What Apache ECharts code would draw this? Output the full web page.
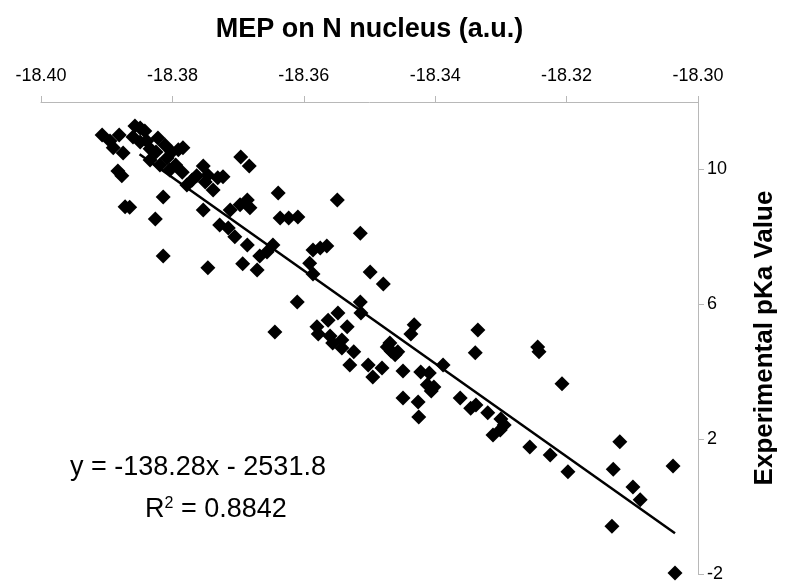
<!DOCTYPE html>
<html>
<head>
<meta charset="utf-8">
<script src="https://cdn.jsdelivr.net/npm/echarts@6/dist/echarts.min.js"></script>
<style>
  html, body { margin: 0; padding: 0; background: #ffffff; }
  #chart { width: 785px; height: 582px; }
</style>
</head>
<body>
<div id="chart"></div>
<script>
const mep = [
  -18.3907, -18.3895, -18.3881, -18.3890, -18.3875, -18.3883, -18.3877, -18.3872, -18.3865, -18.3857,
  -18.3849, -18.3842, -18.3860, -18.3849, -18.3839, -18.3834, -18.3825, -18.3834, -18.3826, -18.3814,
  -18.3814, -18.3822, -18.3811, -18.3819, -18.3808, -18.3801, -18.3791, -18.3784, -18.3804, -18.3795,
  -18.3785, -18.3778, -18.3770, -18.3763, -18.3753, -18.3746, -18.3750, -18.3738, -18.3731, -18.3723,
  -18.3753, -18.3746, -18.3728, -18.3715, -18.3705, -18.3712, -18.3697, -18.3686, -18.3682, -18.3696,
  -18.3683, -18.3686, -18.3693, -18.3671, -18.3667, -18.3656, -18.3647, -18.3639, -18.3636,
  -18.3623, -18.3609, -18.3549, -18.3586, -18.3575, -18.3565, -18.3591, -18.3586, -18.3514, -18.3499,
  -18.3479, -18.3610, -18.3644, -18.3514, -18.3513, -18.3548, -18.3563, -18.3534, -18.3580, -18.3578,
  -18.3560, -18.3556, -18.3542, -18.3542, -18.3524, -18.3530, -18.3502, -18.3495, -18.3481, -18.3473,
  -18.3467, -18.3461, -18.3457, -18.3449, -18.3432, -18.3437, -18.3469, -18.3422, -18.3409, -18.3412,
  -18.3406, -18.3402, -18.3449, -18.3426, -18.3425, -18.3388, -18.3335, -18.3339, -18.3362, -18.3346,
  -18.3338, -18.3320, -18.3300, -18.3295, -18.3312, -18.3301, -18.3256, -18.3244, -18.3242, -18.3207,
  -18.3225, -18.3198, -18.3129, -18.3119, -18.3038, -18.3099, -18.3088, -18.3131, -18.3035
];
const pka = [
  11.02, 10.84, 11.02, 10.64, 10.49, 9.95, 9.81, 8.89, 8.88, 11.29,
  11.23, 11.14, 10.96, 10.81, 10.84, 10.61, 10.52, 10.28, 8.53, 7.43,
  9.18, 10.93, 10.72, 10.13, 10.34, 10.52, 10.58, 10.64, 9.98, 10.13,
  9.92, 9.54, 9.69, 9.81, 10.10, 9.83, 9.63, 9.39, 9.75, 9.78,
  8.80, 7.08, 8.35, 8.26, 8.00, 8.80, 8.95, 9.09, 8.86, 10.37,
  10.10, 7.76, 7.20, 7.02, 7.43, 7.55, 7.76, 9.30, 8.56,
  8.56, 8.59, 9.09, 7.61, 7.67, 7.73, 7.22, 6.90, 8.11, 6.96,
  6.60, 6.07, 5.18, 6.07, 5.74, 5.74, 5.53, 5.33, 5.33, 5.12,
  5.06, 4.85, 4.94, 4.70, 4.59, 4.20, 4.20, 3.84, 4.11, 4.73,
  4.61, 4.50, 4.59, 4.02, 5.39, 5.12, 4.85, 3.99, 3.96, 3.61,
  3.43, 3.55, 3.22, 3.10, 2.66, 4.20, 5.24, 4.56, 3.22, 2.92,
  3.01, 2.78, 2.60, 2.42, 2.12, 2.27, 1.77, 4.73, 4.59, 3.64,
  1.53, 1.03, 1.11, 1.92, 1.20, 0.58, 0.20, -0.58, -1.97
];

// ends of the drawn trend line
const trendMep = [-18.3850, -18.3035];
const trendPka = [10.45, -0.79];

const xTicks = [-18.40, -18.38, -18.36, -18.34, -18.32, -18.30];
const yTicks = [-2, 2, 6, 10];

const equationText = 'y = -138.28x - 2531.8';
const rSquaredText = '0.8842';

const font = '"Liberation Sans", Arial, Helvetica, sans-serif';
const axisGrey = '#b8b8b8';

const chart = echarts.init(document.getElementById('chart'), null, { renderer: 'canvas' });

const option = {
  animation: false,
  backgroundColor: '#ffffff',
  textStyle: { fontFamily: font },
  grid: {
    left: 41,
    right: 87,
    top: 102,
    bottom: 8,
    outerBoundsMode: 'none',
  },
  xAxis: {
    type: 'value',
    position: 'top',
    min: -18.40,
    max: -18.30,
    name: 'MEP on N nucleus (a.u.)',
    nameLocation: 'middle',
    nameGap: 59,
    nameTextStyle: {
      color: '#000',
      fontFamily: font,
      fontSize: 27,
      fontWeight: 'bold',
    },
    axisLine: {
      onZero: false,
      lineStyle: { color: axisGrey, width: 1 },
    },
    axisTick: {
      show: true,
      length: 6,
      inside: false,
      customValues: xTicks,
      lineStyle: { color: axisGrey },
    },
    axisLabel: {
      customValues: xTicks,
      margin: 17,
      color: '#000',
      fontFamily: font,
      fontSize: 18,
      formatter: (value) => value.toFixed(2),
    },
    splitLine: { show: false },
  },
  yAxis: {
    type: 'value',
    position: 'right',
    min: -2,
    max: 12,
    name: 'Experimental pKa Value',
    nameLocation: 'middle',
    nameRotate: 90,
    nameGap: 54,
    nameTextStyle: {
      color: '#000',
      fontFamily: font,
      fontSize: 26,
      fontWeight: 'bold',
    },
    axisLine: {
      show: true,
      onZero: false,
      lineStyle: { color: axisGrey, width: 1 },
    },
    axisTick: {
      show: true,
      length: 6,
      customValues: yTicks,
      lineStyle: { color: axisGrey },
    },
    axisLabel: {
      customValues: yTicks,
      margin: 9,
      color: '#000',
      fontFamily: font,
      fontSize: 18,
    },
    splitLine: { show: false },
  },
  series: [
    {
      name: 'pKa',
      type: 'scatter',
      symbol: 'diamond',
      symbolSize: 15,
      itemStyle: { color: '#000', opacity: 1 },
      data: mep.map((x, i) => [x, pka[i]]),
      z: 3,
    },
    {
      name: 'Trend',
      type: 'line',
      symbol: 'none',
      lineStyle: { color: '#000', width: 2.5 },
      data: trendMep.map((x, i) => [x, trendPka[i]]),
      z: 4,
    },
  ],
  graphic: [
    {
      type: 'text',
      left: 70,
      top: 454,
      style: {
        text: equationText,
        font: '27px ' + font,
        fill: '#000',
      },
    },
    {
      type: 'text',
      left: 145,
      top: 496,
      style: {
        text: 'R{sup|2} = ' + rSquaredText,
        font: '27px ' + font,
        fill: '#000',
        rich: {
          sup: {
            fontSize: 16,
            fontFamily: font,
            verticalAlign: 'top',
            padding: [0, 0, 12, 0],
          },
        },
      },
    },
  ],
};

chart.setOption(option);
</script>
</body>
</html>
